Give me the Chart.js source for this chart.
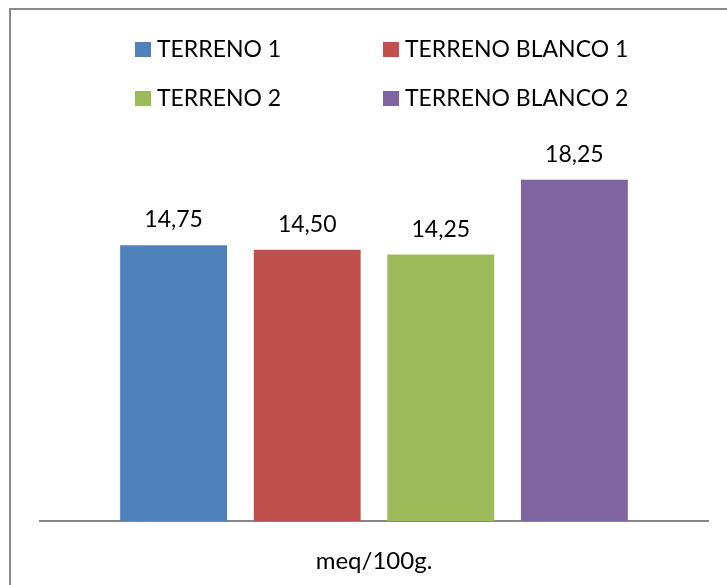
<!DOCTYPE html>
<html>
<head>
<meta charset="utf-8">
<script src="https://cdn.jsdelivr.net/npm/chart.js@4/dist/chart.umd.min.js"></script>
<style>
  html, body { margin: 0; padding: 0; background: #fff; }
  canvas { display: block; }
</style>
</head>
<body>
<canvas id="chart" width="727" height="585"></canvas>
<script>
// Category and series data
const categories = ['meq/100g.'];
const seriesNames = ['TERRENO 1', 'TERRENO BLANCO 1', 'TERRENO 2', 'TERRENO BLANCO 2'];
const terreno1 = [14.75];
const terrenoBlanco1 = [14.50];
const terreno2 = [14.25];
const terrenoBlanco2 = [18.25];
const seriesColors = ['#4F81BD', '#C0504D', '#9BBB59', '#8064A2'];

const FONT = 'Lato, "Noto Sans", sans-serif';
const FONT_SIZE = 23;

const formatValue = v => v.toFixed(2).replace('.', ',');

// Frame: gray rule along the top and left edges
const framePlugin = {
  id: 'frame',
  beforeDraw(chart) {
    const ctx = chart.ctx;
    ctx.save();
    ctx.fillStyle = '#ffffff';
    ctx.fillRect(0, 0, chart.width, chart.height);
    ctx.strokeStyle = '#8a8a8a';
    ctx.lineWidth = 2;
    ctx.beginPath();
    ctx.moveTo(9, 9);
    ctx.lineTo(chart.width, 9);
    ctx.moveTo(10, 8);
    ctx.lineTo(10, chart.height);
    ctx.stroke();
    ctx.restore();
  }
};

// Two-column legend drawn from the datasets
const legendGridPlugin = {
  id: 'legendGrid',
  afterDraw(chart) {
    const ctx = chart.ctx;
    const colX = [135, 383];
    const rowBase = [57, 106];
    ctx.save();
    ctx.font = `${FONT_SIZE}px ${FONT}`;
    ctx.textAlign = 'left';
    ctx.textBaseline = 'alphabetic';
    chart.data.datasets.forEach((ds, i) => {
      const x = colX[i % 2];
      const base = rowBase[Math.floor(i / 2)];
      ctx.fillStyle = ds.backgroundColor;
      ctx.fillRect(x, base - 15, 16, 15);
      ctx.fillStyle = '#000000';
      ctx.fillText(ds.label, x + 22, base);
    });
    ctx.restore();
  }
};

// Value labels above each bar
const valueLabelPlugin = {
  id: 'valueLabels',
  afterDatasetsDraw(chart) {
    const ctx = chart.ctx;
    ctx.save();
    ctx.font = `${FONT_SIZE}px ${FONT}`;
    ctx.fillStyle = '#000000';
    ctx.textAlign = 'center';
    ctx.textBaseline = 'alphabetic';
    chart.data.datasets.forEach((ds, di) => {
      const meta = chart.getDatasetMeta(di);
      meta.data.forEach((bar, i) => {
        ctx.fillText(formatValue(ds.data[i]), bar.x, bar.y - 18);
      });
    });
    ctx.restore();
  }
};

function build() {
  const values = [terreno1, terrenoBlanco1, terreno2, terrenoBlanco2];
  new Chart(document.getElementById('chart'), {
    type: 'bar',
    data: {
      labels: categories,
      datasets: seriesNames.map((name, i) => ({
        label: name,
        data: values[i],
        backgroundColor: seriesColors[i],
        borderWidth: 0,
        barPercentage: 0.8,
        categoryPercentage: 0.8
      }))
    },
    options: {
      responsive: false,
      animation: false,
      devicePixelRatio: 1,
      layout: { padding: { left: 40, right: 19, top: 147, bottom: 0 } },
      plugins: {
        legend: { display: false },
        tooltip: { enabled: false }
      },
      scales: {
        x: {
          grid: { display: false },
          border: { display: true, color: '#868686', width: 2 },
          ticks: {
            color: '#000000',
            font: { family: FONT, size: 24 },
            padding: 18
          },
          afterFit(scale) { scale.height = 64; }
        },
        y: {
          display: false,
          min: 0,
          max: 20
        }
      }
    },
    plugins: [framePlugin, valueLabelPlugin, legendGridPlugin]
  });
}

if (document.fonts && document.fonts.load) {
  document.fonts.load(`${FONT_SIZE}px Lato`).then(build, build);
} else {
  build();
}
</script>
</body>
</html>
